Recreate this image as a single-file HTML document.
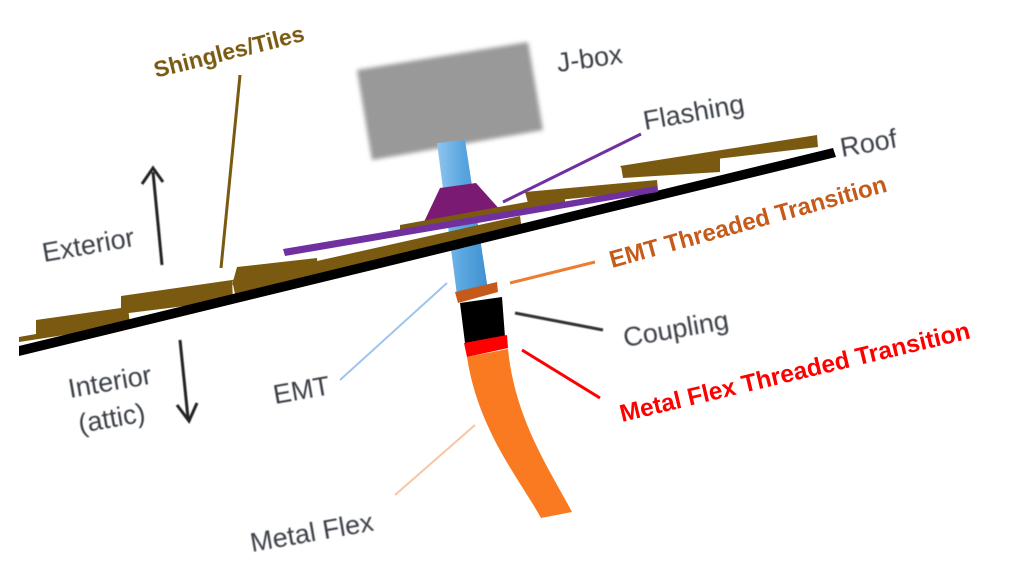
<!DOCTYPE html>
<html><head><meta charset="utf-8"><style>
html,body{margin:0;padding:0;background:#fff;}
svg{display:block}
text{font-family:"Liberation Sans",sans-serif;}
.g{fill:#3a3f46;font-size:27px;}
</style></head><body>
<svg width="1017" height="587" viewBox="0 0 1017 587" xmlns="http://www.w3.org/2000/svg">
<defs>
<filter id="b" x="-10%" y="-10%" width="120%" height="120%"><feGaussianBlur stdDeviation="2"/></filter>
<filter id="s"><feGaussianBlur stdDeviation="0.5"/></filter>
<linearGradient id="pb" x1="0" x2="1"><stop offset="0" stop-color="#8ec5ef"/><stop offset="0.5" stop-color="#5aa6e0"/><stop offset="1" stop-color="#3f8fd0"/></linearGradient>
</defs>
<polygon points="357,70 528,42 543,130 372,160" fill="#999" filter="url(#b)"/>
<polygon points="437,143 465,140 488,290 457,295" fill="url(#pb)"/>
<polygon points="440,188 476,183 502,212 423,224" fill="#7b1a72"/>
<g fill="#7a5a10">
<polygon points="19,337 36,334 36,320 128,307 130,325 19,342"/>
<polygon points="121,296 232,280 233,300 121,314"/>
<polygon points="237,267 317,258 318,275 232,285"/>
<polygon points="232,280 420,238 520,216 522,230 235,294"/>
<polygon points="400,225 565,195 565,206 400,236"/>
<polygon points="525,192 657,180 658,190 528,203"/>
<polygon points="621,166 720,155 720,172 623,178"/>
<polygon points="620,166 817,135 818,147 623,170"/>
</g>
<polygon points="19,346 833,148 836,157 19,356" fill="#000"/>
<polygon points="283,249 657,186 658,192 285,256" fill="#7030a0"/>
<polygon points="455,292 497,282 498,292 458,303" fill="#c55a1a"/>
<polygon points="460,303 502,297 505,337 465,343" fill="#000"/>
<polygon points="464,343 507,335 508,348 467,357" fill="#ff0000"/>
<path d="M467,357 L508,349 C515,420 550,470 572,512 L541,518 C520,480 478,430 467,357 Z" fill="#f97a20"/>
<line x1="240" y1="75" x2="221" y2="268" stroke="#7a5a10" stroke-width="3"/>
<line x1="503" y1="202" x2="641" y2="134" stroke="#7030a0" stroke-width="3"/>
<line x1="510" y1="283" x2="595" y2="262" stroke="#ed7d31" stroke-width="3"/>
<line x1="515" y1="313" x2="603" y2="330" stroke="#333" stroke-width="3" filter="url(#s)"/>
<line x1="522" y1="350" x2="600" y2="398" stroke="#ff0000" stroke-width="3"/>
<line x1="340" y1="380" x2="447" y2="283" stroke="#9dc3f0" stroke-width="2"/>
<line x1="395" y1="495" x2="475" y2="425" stroke="#f8c5a5" stroke-width="2"/>
<g stroke="#222" stroke-width="3" fill="none" filter="url(#s)">
<line x1="162" y1="265" x2="153" y2="172"/>
<polyline points="142,184 153,168 163,182"/>
<line x1="180" y1="340" x2="188" y2="418"/>
<polyline points="177,405 189,421 197,403"/>
</g>
<g filter="url(#s)">
<text class="g" transform="translate(44,262) rotate(-10)">Exterior</text>
<text class="g" transform="translate(70,398) rotate(-10)">Interior</text>
<text class="g" transform="translate(80,433) rotate(-10)">(attic)</text>
<text class="g" transform="translate(275,404) rotate(-10)">EMT</text>
<text class="g" transform="translate(252,552) rotate(-10)">Metal Flex</text>
<text class="g" transform="translate(558,72) rotate(-8)">J-box</text>
<text class="g" transform="translate(645,130) rotate(-10)">Flashing</text>
<text class="g" transform="translate(842,157) rotate(-10)">Roof</text>
<text class="g" transform="translate(625,347) rotate(-10)">Coupling</text>
</g>
<text transform="translate(156,78) rotate(-14)" font-size="23" font-weight="bold" fill="#7a5a10">Shingles/Tiles</text>
<text transform="translate(612,268) rotate(-15.5)" font-size="24" font-weight="bold" fill="#c55a1a">EMT Threaded Transition</text>
<text transform="translate(622,422) rotate(-13.5)" font-size="24.5" font-weight="bold" fill="#ff0000">Metal Flex Threaded Transition</text>
</svg>
</body></html>
